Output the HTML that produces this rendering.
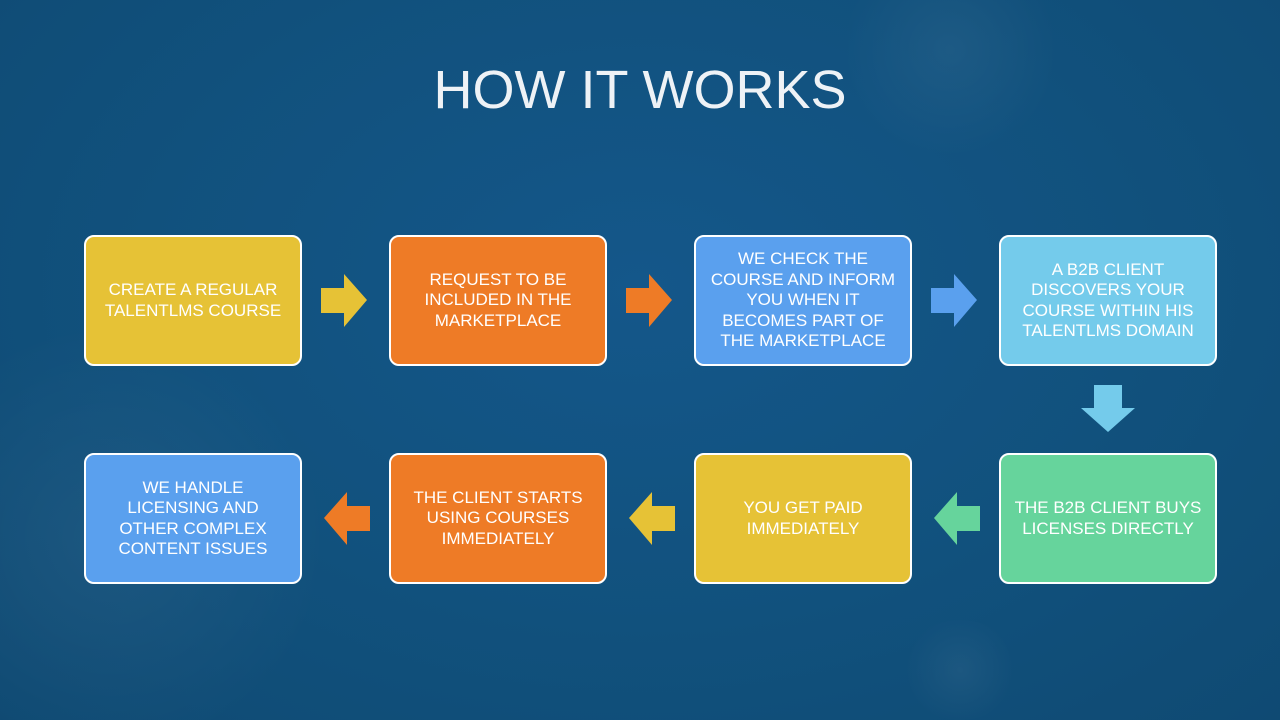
<!DOCTYPE html>
<html><head><meta charset="utf-8"><style>
html,body{margin:0;padding:0;width:1280px;height:720px;overflow:hidden;background:#11507b}
body{position:relative;
background:radial-gradient(ellipse at 50% 40%,#14578a 0%,#11517d 55%,#0f4a73 100%);
font-family:"Liberation Sans",sans-serif;}
.glow{position:absolute;border-radius:50%;background:radial-gradient(circle,rgba(255,255,255,0.05),rgba(255,255,255,0) 70%);}
h1{position:absolute;left:0;width:1280px;top:55px;margin:0;text-align:center;color:#eef2f6;font-weight:normal;font-size:54px;letter-spacing:0px;line-height:70px;}
.b{position:absolute;width:214px;height:127px;border:2px solid #fff;border-radius:10px;display:flex;align-items:center;justify-content:center;text-align:center;color:#fff;font-size:17px;line-height:20.5px;box-sizing:content-box;}
.y{background:#e6c236}.o{background:#ee7b26}.bl{background:#5aa0ee}.lb{background:#74cbeb}.g{background:#66d49c}
svg{position:absolute;left:0;top:0}
</style></head><body>
<div class="glow" style="left:840px;top:-60px;width:220px;height:220px"></div>
<div class="glow" style="left:-120px;top:330px;width:460px;height:420px"></div>
<div class="glow" style="left:900px;top:620px;width:120px;height:100px"></div>
<h1>HOW IT WORKS</h1>
<div class="b y" style="left:84px;top:235px">CREATE A REGULAR<br>TALENTLMS COURSE</div>
<div class="b o" style="left:389px;top:235px">REQUEST TO BE<br>INCLUDED IN THE<br>MARKETPLACE</div>
<div class="b bl" style="left:694px;top:235px">WE CHECK THE<br>COURSE AND INFORM<br>YOU WHEN IT<br>BECOMES PART OF<br>THE MARKETPLACE</div>
<div class="b lb" style="left:999px;top:235px">A B2B CLIENT<br>DISCOVERS YOUR<br>COURSE WITHIN HIS<br>TALENTLMS DOMAIN</div>
<div class="b g" style="left:999px;top:453px">THE B2B CLIENT BUYS<br>LICENSES DIRECTLY</div>
<div class="b y" style="left:694px;top:453px">YOU GET PAID<br>IMMEDIATELY</div>
<div class="b o" style="left:389px;top:453px">THE CLIENT STARTS<br>USING COURSES<br>IMMEDIATELY</div>
<div class="b bl" style="left:84px;top:453px">WE HANDLE<br>LICENSING AND<br>OTHER COMPLEX<br>CONTENT ISSUES</div>
<svg width="1280" height="720">
<polygon fill="#e6c236" points="321,288 344,288 344,274 367,300 344,327 344,313 321,313"/>
<polygon fill="#ee7b26" points="626,288 649,288 649,274 672,300 649,327 649,313 626,313"/>
<polygon fill="#5aa0ee" points="931,288 954,288 954,274 977,300 954,327 954,313 931,313"/>
<polygon fill="#74cbeb" points="1094,385 1122,385 1122,408 1135,408 1108,432 1081,408 1094,408"/>
<polygon fill="#66d49c" points="980,506 957,506 957,492 934,518 957,545 957,531 980,531"/>
<polygon fill="#e6c236" points="675,506 652,506 652,492 629,518 652,545 652,531 675,531"/>
<polygon fill="#ee7b26" points="370,506 347,506 347,492 324,518 347,545 347,531 370,531"/>
</svg>
</body></html>
